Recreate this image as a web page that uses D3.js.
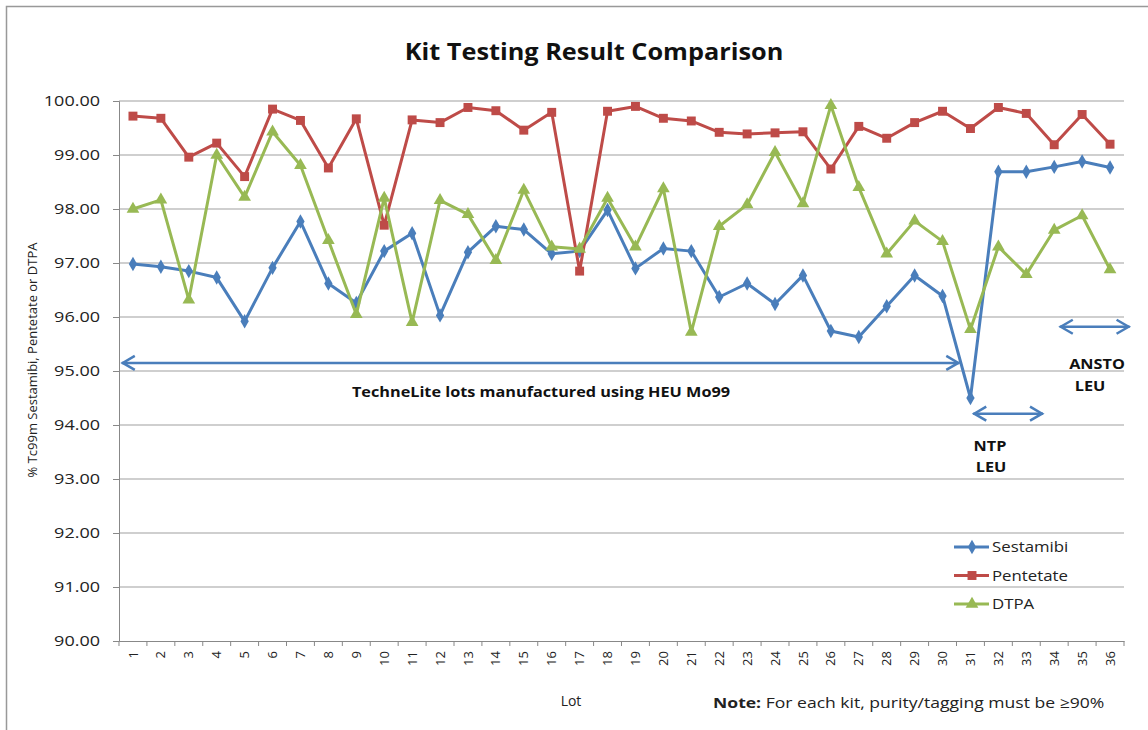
<!DOCTYPE html>
<html>
<head>
<meta charset="utf-8">
<script src="https://cdnjs.cloudflare.com/ajax/libs/d3/7.8.5/d3.min.js"></script>
<style>
  body { margin:0; background:#fff; }
  text { font-family: "Open Sans", sans-serif; }
</style>
</head>
<body>
<div id="chart"></div>
<script>
const lots = d3.range(1, 37).map(String);
const sestamibi = [96.98,96.93,96.85,96.73,95.92,96.91,97.77,96.62,96.26,97.22,97.55,96.03,97.20,97.68,97.62,97.17,97.22,97.98,96.90,97.27,97.22,96.37,96.62,96.24,96.77,95.74,95.63,96.20,96.77,96.39,94.50,98.69,98.69,98.78,98.88,98.77];
const pentetate = [99.72,99.68,98.96,99.22,98.60,99.85,99.64,98.76,99.67,97.70,99.65,99.60,99.88,99.82,99.46,99.79,96.85,99.81,99.90,99.68,99.63,99.42,99.39,99.41,99.43,98.74,99.53,99.31,99.60,99.81,99.49,99.88,99.77,99.19,99.75,99.20];
const dtpa = [98.00,98.17,96.32,99.00,98.22,99.43,98.81,97.42,96.05,98.20,95.90,98.16,97.90,97.05,98.35,97.30,97.26,98.20,97.30,98.38,95.72,97.68,98.08,99.05,98.10,99.92,98.40,97.17,97.78,97.40,95.77,97.30,96.79,97.61,97.88,96.88];
const yTicks = [90,91,92,93,94,95,96,97,98,99,100];

const series = [
  {name:"Sestamibi", values:sestamibi, color:"#4a7ebb", shape:d3.symbolDiamond, size:60},
  {name:"Pentetate", values:pentetate, color:"#be4b48", shape:d3.symbolSquare, size:80},
  {name:"DTPA", values:dtpa, color:"#98b954", shape:d3.symbolTriangle, size:70}
];

// annotation ranges: [from lot position, to lot position, value]
const arrows = [
  {x0:0.6, x1:30.6, v:95.15},
  {x0:31.1, x1:33.6, v:94.21},
  {x0:34.2, x1:36.7, v:95.82}
];

const W = 1148, H = 730;
const m = {left:119, right:24, top:101, bottom:89};
const svg = d3.select("#chart").append("svg").attr("width", W).attr("height", H);

// the original text is drawn a bit wider than any installed font
function stretch(sel, k) {
  sel.each(function() {
    const len = this.getComputedTextLength();
    d3.select(this).attr("textLength", len * k).attr("lengthAdjust", "spacingAndGlyphs");
  });
  return sel;
}

svg.append("rect").attr("x", 6.5).attr("y", 6.5).attr("width", W + 20).attr("height", H + 20)
  .attr("fill", "#fff").attr("stroke", "#999").attr("stroke-width", 1.5);

const x = d3.scaleBand().domain(lots).range([m.left, W - m.right]);
const y = d3.scaleLinear().domain([90, 100]).range([H - m.bottom, m.top]);
const xc = d => x(d) + x.bandwidth() / 2;
const xLot = p => m.left + (p - 0.5) * x.bandwidth();

// gridlines
svg.append("g").selectAll("line").data(yTicks.slice(1)).join("line")
  .attr("x1", m.left).attr("x2", W - m.right)
  .attr("y1", d => y(d)).attr("y2", d => y(d))
  .attr("stroke", "#a0a0a0").attr("stroke-width", 1.2);

// y axis
const yAxis = svg.append("g").attr("transform", `translate(${m.left},0)`)
  .call(d3.axisLeft(y).tickValues(yTicks).tickFormat(d3.format(".2f")).tickSize(6).tickPadding(13));
yAxis.selectAll("path, line").attr("stroke", "#888");
stretch(yAxis.selectAll("text").attr("font-size", 15).attr("fill", "#222")
  .attr("font-family", "'Open Sans', sans-serif"), 1.2);

// x axis
const xAxis = svg.append("g").attr("transform", `translate(0,${H - m.bottom})`)
  .call(d3.axisBottom(x).tickSize(0));
xAxis.select(".domain").attr("stroke", "#888");
xAxis.selectAll(".tick line").remove();
xAxis.selectAll(".tick").append("line")
  .attr("x1", -x.bandwidth()/2).attr("x2", -x.bandwidth()/2).attr("y2", 5).attr("stroke", "#888");
svg.append("line").attr("x1", W - m.right).attr("x2", W - m.right)
  .attr("y1", H - m.bottom).attr("y2", H - m.bottom + 5).attr("stroke", "#888");
xAxis.selectAll(".tick text")
  .attr("transform", "rotate(-90)").attr("text-anchor", "end")
  .attr("x", -10).attr("y", 0).attr("dy", "0.35em")
  .attr("font-size", 13).attr("fill", "#222").attr("font-family", "'Open Sans', sans-serif");

// series
const line = d3.line().x((d, i) => xc(lots[i])).y(d => y(d));
series.forEach(s => {
  svg.append("path").attr("d", line(s.values)).attr("fill", "none")
    .attr("stroke", s.color).attr("stroke-width", 3).attr("stroke-linejoin", "round");
  svg.append("g").selectAll("path").data(s.values).join("path")
    .attr("transform", (d, i) => `translate(${xc(lots[i])},${y(d)})`)
    .attr("d", d3.symbol(s.shape, s.size)).attr("fill", s.color);
});

// annotation arrows
const arrowColor = "#4a7ebb";
arrows.forEach(a => {
  const x0 = xLot(a.x0), x1 = xLot(a.x1), yy = y(a.v);
  svg.append("line").attr("x1", x0).attr("x2", x1).attr("y1", yy).attr("y2", yy)
    .attr("stroke", arrowColor).attr("stroke-width", 2.5);
  svg.append("path").attr("d", `M${x0+13},${yy-7}L${x0+1},${yy}L${x0+13},${yy+7}`)
    .attr("fill", "none").attr("stroke", arrowColor).attr("stroke-width", 2.5);
  svg.append("path").attr("d", `M${x1-13},${yy-7}L${x1-1},${yy}L${x1-13},${yy+7}`)
    .attr("fill", "none").attr("stroke", arrowColor).attr("stroke-width", 2.5);
});

const bold = (t, px, py) => stretch(svg.append("text").attr("x", px).attr("y", py)
  .attr("text-anchor", "middle").attr("font-size", 14.5).attr("font-weight", "bold")
  .attr("fill", "#111").text(t), 1.12);
bold("TechneLite lots manufactured using HEU Mo99", 541, 397);
bold("NTP", 990, 451);
bold("LEU", 991, 472);
bold("ANSTO", 1097, 369);
bold("LEU", 1090, 391);

// title
stretch(svg.append("text").attr("x", 594).attr("y", 60).attr("text-anchor", "middle")
  .attr("font-size", 23).attr("font-weight", "bold").attr("fill", "#111")
  .text("Kit Testing Result Comparison"), 1.1);

// y label
svg.append("text").attr("transform", `translate(37,360) rotate(-90)`)
  .attr("text-anchor", "middle").attr("font-size", 13).attr("fill", "#222")
  .text("% Tc99m Sestamibi, Pentetate or DTPA");

// x label
svg.append("text").attr("x", 571).attr("y", 706).attr("text-anchor", "middle")
  .attr("font-size", 14).attr("fill", "#222").text("Lot");

// note
const note = svg.append("text").attr("x", 713).attr("y", 708).attr("font-size", 15).attr("fill", "#222");
note.append("tspan").attr("font-weight", "bold").text("Note:");
note.append("tspan").text(" For each kit, purity/tagging must be \u226590%");
stretch(note, 1.17);

// legend
const lg = svg.append("g").attr("transform", "translate(954,547)");
series.forEach((s, i) => {
  const g = lg.append("g").attr("transform", `translate(0,${i * 28.5})`);
  g.append("line").attr("x1", 0).attr("x2", 35).attr("stroke", s.color).attr("stroke-width", 3);
  g.append("path").attr("transform", "translate(18,0)").attr("d", d3.symbol(s.shape, s.size)).attr("fill", s.color);
  stretch(g.append("text").attr("x", 38).attr("dy", "0.35em").attr("font-size", 15)
    .attr("fill", "#222").text(s.name), 1.12);
});
</script>
</body>
</html>
